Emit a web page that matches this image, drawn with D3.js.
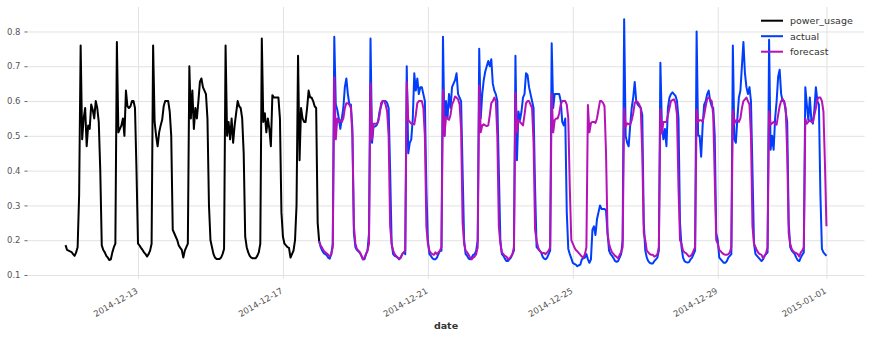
<!DOCTYPE html>
<html>
<head>
<meta charset="utf-8">
<script src="https://cdn.jsdelivr.net/npm/d3@7"></script>
<style>
  body { margin: 0; background: #fff; }
  svg { display: block; }
  text { font-family: "DejaVu Sans", "Liberation Sans", sans-serif; }
</style>
</head>
<body>
<svg id="chart" width="871" height="339"></svg>
<script>
// Hourly household power usage (kW), training window
const trainStart = "2014-12-11T00:00:00Z";
const powerUsage = [
  // 2014-12-11
  .186,.172,.17,.168,.166,.16,.155,.165,.18,.33,.76,.49,.55,.58,.47,.53,.52,.59,.575,.55,.60,.58,.54,.40,
  // 2014-12-12
  .185,.172,.165,.155,.15,.143,.145,.165,.18,.19,.77,.51,.52,.53,.55,.50,.63,.585,.58,.585,.60,.60,.58,.40,
  // 2014-12-13
  .19,.185,.178,.172,.165,.16,.153,.16,.17,.19,.76,.54,.50,.47,.51,.53,.546,.585,.60,.60,.60,.57,.50,.23,
  // 2014-12-14
  .22,.21,.20,.185,.178,.172,.15,.17,.18,.19,.70,.55,.63,.52,.58,.55,.60,.655,.665,.64,.63,.62,.55,.30,
  // 2014-12-15
  .20,.18,.16,.15,.146,.146,.146,.15,.16,.175,.76,.50,.54,.49,.55,.48,.53,.565,.60,.585,.58,.55,.45,.21,
  // 2014-12-16
  .18,.165,.155,.15,.148,.148,.148,.155,.165,.19,.78,.54,.565,.51,.55,.52,.47,.617,.61,.61,.61,.61,.55,.28,
  // 2014-12-17
  .21,.19,.185,.18,.178,.15,.16,.17,.20,.30,.73,.43,.58,.55,.54,.54,.58,.63,.61,.61,.60,.585,.58,.25,
  // 2014-12-18 00:00
  .196
];

// Validation window: observed values and model forecast, hourly
const testStart = "2014-12-18T00:00:00Z";
const actual = [
  // 2014-12-18
  .196,.18,.17,.163,.16,.157,.15,.147,.16,.19,.785,.59,.575,.55,.52,.55,.58,.64,.665,.62,.59,.59,.52,.22,
  // 2014-12-19
  .18,.172,.168,.163,.155,.145,.145,.16,.17,.22,.78,.48,.527,.527,.53,.54,.57,.585,.60,.60,.60,.595,.58,.40,
  // 2014-12-20
  .19,.16,.155,.153,.15,.145,.15,.16,.165,.16,.70,.45,.48,.49,.55,.68,.63,.665,.62,.64,.64,.62,.60,.35,
  // 2014-12-21
  .20,.16,.155,.148,.145,.145,.15,.16,.17,.17,.785,.50,.60,.55,.62,.58,.64,.65,.66,.68,.62,.61,.60,.40,
  // 2014-12-22
  .20,.16,.155,.147,.145,.15,.158,.16,.17,.20,.75,.55,.62,.66,.685,.70,.715,.70,.72,.65,.63,.62,.60,.40,
  // 2014-12-23
  .20,.16,.155,.147,.14,.14,.145,.15,.16,.17,.73,.43,.57,.545,.57,.61,.62,.68,.675,.64,.62,.60,.58,.35,
  // 2014-12-24
  .18,.175,.17,.165,.153,.147,.145,.15,.16,.17,.766,.58,.62,.62,.62,.62,.60,.54,.53,.55,.28,.175,.16,.148,
  // 2014-12-25
  .135,.132,.13,.125,.128,.13,.145,.148,.15,.16,.145,.135,.145,.23,.24,.215,.26,.28,.30,.29,.29,.29,.285,.22,
  // 2014-12-26
  .17,.16,.155,.148,.14,.138,.14,.15,.16,.20,.835,.50,.48,.47,.53,.58,.61,.655,.60,.59,.585,.58,.56,.25,
  // 2014-12-27
  .17,.15,.14,.135,.133,.133,.14,.145,.15,.17,.71,.53,.49,.52,.47,.58,.61,.62,.625,.62,.615,.60,.55,.25,
  // 2014-12-28
  .18,.15,.14,.137,.136,.137,.145,.15,.16,.17,.80,.50,.50,.44,.53,.59,.60,.62,.63,.60,.585,.58,.50,.22,
  // 2014-12-29
  .20,.15,.145,.14,.135,.135,.14,.15,.155,.16,.76,.49,.48,.55,.61,.63,.70,.77,.68,.64,.62,.64,.60,.40,
  // 2014-12-30
  .19,.16,.155,.15,.145,.14,.145,.155,.16,.165,.776,.46,.50,.46,.55,.60,.67,.69,.62,.60,.60,.57,.54,.25,
  // 2014-12-31
  .18,.17,.165,.16,.15,.142,.14,.15,.158,.165,.64,.59,.545,.61,.545,.535,.575,.64,.60,.59,.33,.175,.165,.16,
  // 2015-01-01 00:00
  .155
];
const forecast = [
  // 2014-12-18
  .196,.185,.178,.17,.165,.162,.158,.153,.16,.18,.668,.49,.55,.54,.545,.54,.55,.58,.594,.594,.59,.58,.50,.24,
  // 2014-12-19
  .19,.175,.17,.165,.155,.145,.15,.16,.17,.19,.651,.49,.535,.535,.535,.54,.56,.594,.60,.60,.59,.57,.50,.24,
  // 2014-12-20
  .19,.17,.16,.155,.15,.147,.15,.16,.165,.17,.655,.545,.54,.535,.535,.533,.56,.594,.60,.60,.60,.58,.50,.24,
  // 2014-12-21
  .19,.17,.163,.16,.158,.165,.16,.165,.17,.18,.632,.50,.555,.55,.546,.56,.59,.60,.613,.61,.605,.59,.52,.25,
  // 2014-12-22
  .19,.17,.165,.158,.15,.145,.15,.153,.16,.18,.645,.51,.53,.533,.53,.528,.53,.56,.594,.60,.61,.60,.50,.24,
  // 2014-12-23
  .19,.165,.16,.155,.153,.145,.148,.153,.16,.18,.624,.51,.545,.54,.535,.53,.56,.594,.60,.60,.59,.58,.48,.23,
  // 2014-12-24
  .20,.18,.17,.165,.163,.163,.16,.165,.17,.18,.62,.51,.545,.55,.55,.565,.59,.60,.60,.60,.59,.55,.35,.20,
  // 2014-12-25
  .19,.18,.172,.168,.163,.158,.153,.15,.16,.18,.589,.51,.537,.54,.54,.537,.55,.575,.60,.60,.595,.585,.45,.22,
  // 2014-12-26
  .19,.175,.165,.16,.155,.152,.148,.158,.165,.18,.579,.527,.536,.534,.532,.545,.565,.594,.60,.597,.59,.58,.45,.22,
  // 2014-12-27
  .20,.17,.165,.16,.158,.158,.153,.155,.16,.18,.577,.507,.54,.54,.54,.56,.58,.60,.603,.605,.594,.56,.35,.20,
  // 2014-12-28
  .19,.17,.165,.163,.158,.153,.155,.16,.17,.18,.575,.541,.545,.545,.54,.56,.585,.606,.61,.605,.60,.56,.38,.20,
  // 2014-12-29
  .19,.172,.168,.163,.16,.158,.158,.16,.165,.18,.573,.535,.545,.545,.54,.55,.58,.60,.605,.61,.60,.59,.50,.24,
  // 2014-12-30
  .19,.18,.17,.163,.16,.158,.148,.155,.163,.18,.57,.532,.536,.54,.535,.532,.56,.585,.60,.606,.597,.58,.45,.22,
  // 2014-12-31
  .19,.175,.168,.165,.163,.16,.153,.165,.17,.18,.55,.535,.54,.545,.54,.54,.56,.58,.606,.61,.61,.60,.57,.42,
  // 2015-01-01 00:00
  .24
];

const seriesNames = ["power_usage", "actual", "forecast"];
const seriesColors = ["#000000", "#003DFD", "#b512b8"];
const xTickLabels = ["2014-12-13", "2014-12-17", "2014-12-21", "2014-12-25", "2014-12-29", "2015-01-01"];
const yTickValues = [0.1, 0.2, 0.3, 0.4, 0.5, 0.6, 0.7, 0.8];

const HOUR = 3600 * 1000;
const hourly = (start, values) => {
  const t0 = Date.parse(start);
  return values.map((v, i) => ({ t: new Date(t0 + i * HOUR), v }));
};
const series = [
  hourly(trainStart, powerUsage),
  hourly(testStart, actual),
  hourly(testStart, forecast)
];

// plot frame
const X0 = 27.5, X1 = 864.5, Y0 = 6.95, Y1 = 278.65;

const all = series.flat();
const [tMin, tMax] = d3.extent(all, d => d.t);
const tPad = (tMax - tMin) * 0.05;
const x = d3.scaleUtc()
  .domain([new Date(+tMin - tPad), new Date(+tMax + tPad)])
  .range([X0, X1]);

const [vMin, vMax] = d3.extent(all, d => d.v);
const vPad = (vMax - vMin) * 0.05;
const y = d3.scaleLinear()
  .domain([vMin - vPad, vMax + vPad])
  .range([Y1, Y0]);

const svg = d3.select("#chart");
svg.append("rect").attr("width", 871).attr("height", 339).attr("fill", "#fff");

// horizontal grid
const gridY = svg.append("g")
  .attr("transform", `translate(${X0},0)`)
  .call(d3.axisLeft(y).tickValues(yTickValues).tickSize(-(X1 - X0)).tickFormat(""));
gridY.select(".domain").remove();
gridY.selectAll("line").attr("stroke", "#e2e2e2").attr("stroke-width", 1);

// vertical grid
const xTicks = xTickLabels.map(s => new Date(s + "T00:00:00Z"));
const gridX = svg.append("g")
  .attr("transform", `translate(0,${Y1})`)
  .call(d3.axisBottom(x).tickValues(xTicks).tickSize(-(Y1 - Y0)).tickFormat(""));
gridX.select(".domain").remove();
gridX.selectAll("line").attr("stroke", "#e2e2e2").attr("stroke-width", 1);

// y axis ticks and labels
const yAxis = svg.append("g")
  .attr("transform", `translate(${X0},0)`)
  .call(d3.axisLeft(y).tickValues(yTickValues).tickSize(3).tickPadding(4).tickFormat(d3.format(".1f")));
yAxis.select(".domain").remove();
yAxis.selectAll("line").attr("stroke", "#666");
yAxis.selectAll("text")
  .attr("fill", "#555")
  .style("font-size", "8.5px")
  .style("font-family", "'DejaVu Sans', sans-serif");

// x labels, rotated like autofmt_xdate
const fmt = d3.utcFormat("%Y-%m-%d");
svg.append("g").selectAll("text")
  .data(xTicks)
  .join("text")
  .attr("transform", d => `translate(${x(d) + 0.5},${292.5}) rotate(-30)`)
  .attr("text-anchor", "end")
  .attr("fill", "#555")
  .style("font-size", "8.5px")
  .text(d => fmt(d));

svg.append("text")
  .attr("x", (X0 + X1) / 2)
  .attr("y", 329)
  .attr("text-anchor", "middle")
  .attr("fill", "#333")
  .style("font-size", "9.5px")
  .style("font-weight", "bold")
  .text("date");

// series lines
const line = d3.line().x(d => x(d.t)).y(d => y(d.v));
svg.append("g").selectAll("path")
  .data(series)
  .join("path")
  .attr("d", line)
  .attr("fill", "none")
  .attr("stroke", (d, i) => seriesColors[i])
  .attr("stroke-width", 2)
  .attr("stroke-linejoin", "round");

// legend
const legend = svg.append("g").attr("transform", "translate(761,0)");
const rows = legend.selectAll("g")
  .data(seriesNames)
  .join("g")
  .attr("transform", (d, i) => `translate(0,${20.7 + i * 15.5})`);
rows.append("line")
  .attr("x1", 0).attr("x2", 22)
  .attr("stroke", (d, i) => seriesColors[i])
  .attr("stroke-width", 2);
rows.append("text")
  .attr("x", 29)
  .attr("y", 3.5)
  .attr("fill", "#333")
  .style("font-size", "9.5px")
  .text(d => d);
</script>
</body>
</html>
